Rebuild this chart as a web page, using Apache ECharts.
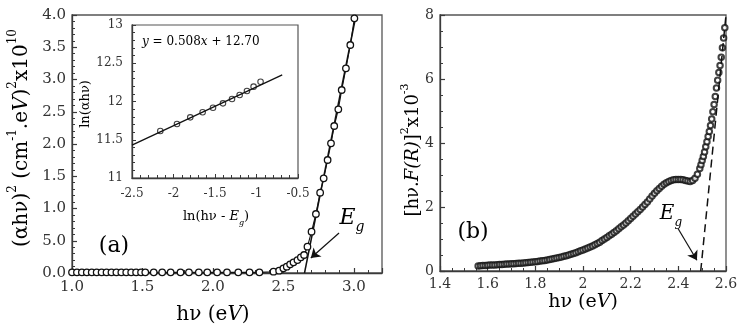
<!DOCTYPE html>
<html>
<head>
<meta charset="utf-8">
<script src="https://cdn.jsdelivr.net/npm/echarts@6/dist/echarts.min.js"></script>
<style>
  html, body { margin: 0; padding: 0; background: #fff; }
  #chart { width: 743px; height: 327px; }
</style>
</head>
<body>
<div id="chart"></div>
<script>
// (a) Tauc plot
const aX = [1.00, 1.035, 1.07, 1.105, 1.14, 1.175, 1.21, 1.245, 1.28, 1.315, 1.35, 1.385, 1.42, 1.455, 1.49,
  1.52, 1.58, 1.64, 1.70, 1.77, 1.83, 1.90, 1.96, 2.03, 2.10, 2.18, 2.26, 2.33, 2.43, 2.47, 2.50,
  2.524, 2.548, 2.572, 2.60, 2.624, 2.647, 2.671, 2.70, 2.731, 2.761, 2.786, 2.814, 2.838, 2.861,
  2.89, 2.914, 2.944, 2.975, 3.004];
const aY = [0.01, 0.01, 0.01, 0.01, 0.01, 0.01, 0.01, 0.01, 0.01, 0.01, 0.01, 0.01, 0.01, 0.01, 0.01,
  0.01, 0.01, 0.01, 0.01, 0.01, 0.01, 0.01, 0.01, 0.01, 0.01, 0.01, 0.01, 0.01, 0.02, 0.036, 0.072,
  0.098, 0.134, 0.165, 0.20, 0.243, 0.279, 0.408, 0.64, 0.915, 1.245, 1.468, 1.752, 2.01, 2.279,
  2.538, 2.837, 3.174, 3.535, 3.949];
// straight-line extrapolation to Eg
const aFitX = [2.65, 3.016];
const aFitY = [0, 4.0];
const aArrow = [[2.895, 0.62], [2.695, 0.233]];

// inset: ln(alpha h nu) vs ln(h nu - Eg)
const insetX = [-2.159, -1.958, -1.798, -1.649, -1.524, -1.404, -1.295, -1.203, -1.115, -1.035, -0.951];
const insetY = [11.614, 11.706, 11.793, 11.859, 11.919, 11.976, 12.033, 12.085, 12.137, 12.194, 12.259];
const insetFitX = [-2.5, -0.69];
const insetFitY = [11.43, 12.349];

// (b) Kubelka-Munk plot
const bX = [1.56, 1.57, 1.58, 1.59, 1.60, 1.61, 1.62, 1.63, 1.64, 1.65, 1.66, 1.67, 1.68, 1.69, 1.70,
  1.71, 1.72, 1.73, 1.74, 1.75, 1.76, 1.77, 1.78, 1.79, 1.80, 1.81, 1.82, 1.83, 1.84, 1.85,
  1.86, 1.87, 1.88, 1.89, 1.90, 1.91, 1.92, 1.93, 1.94, 1.95, 1.96, 1.97, 1.98, 1.99, 2.00,
  2.01, 2.02, 2.03, 2.04, 2.05, 2.06, 2.07, 2.08, 2.09, 2.10, 2.11, 2.12, 2.13, 2.14, 2.15,
  2.16, 2.17, 2.18, 2.19, 2.20, 2.21, 2.22, 2.23, 2.24, 2.25, 2.26, 2.27, 2.28, 2.29, 2.30,
  2.31, 2.32, 2.33, 2.34, 2.35, 2.36, 2.37, 2.38, 2.39, 2.40, 2.41, 2.42, 2.43, 2.44, 2.45,
  2.46, 2.47, 2.48, 2.49, 2.495, 2.50, 2.505, 2.51, 2.515, 2.52, 2.525, 2.53, 2.535, 2.54, 2.545,
  2.55, 2.555, 2.56, 2.565, 2.57, 2.575, 2.58, 2.585, 2.59, 2.595];
const bY = [0.16, 0.165, 0.17, 0.175, 0.18, 0.185, 0.19, 0.19, 0.195, 0.20, 0.205, 0.21, 0.215, 0.22, 0.225,
  0.23, 0.235, 0.24, 0.245, 0.25, 0.26, 0.265, 0.27, 0.28, 0.29, 0.30, 0.31, 0.32, 0.33, 0.345,
  0.36, 0.375, 0.39, 0.405, 0.42, 0.44, 0.46, 0.48, 0.50, 0.52, 0.545, 0.57, 0.60, 0.63, 0.66,
  0.69, 0.72, 0.75, 0.78, 0.82, 0.86, 0.90, 0.95, 1.00, 1.05, 1.10, 1.15, 1.20, 1.26, 1.32,
  1.38, 1.44, 1.50, 1.57, 1.64, 1.71, 1.78, 1.85, 1.92, 2.00, 2.08, 2.16, 2.25, 2.34, 2.43,
  2.51, 2.58, 2.65, 2.71, 2.76, 2.80, 2.83, 2.85, 2.86, 2.86, 2.86, 2.85, 2.83, 2.81, 2.80,
  2.83, 2.90, 3.02, 3.20, 3.32, 3.45, 3.58, 3.72, 3.88, 4.04, 4.20, 4.36, 4.55, 4.75, 4.98,
  5.20, 5.45, 5.72, 5.96, 6.20, 6.42, 6.68, 6.98, 7.28, 7.60];
const bFitX = [2.494, 2.60];
const bFitY = [0, 8];
const bArrow = [[2.398, 1.336], [2.478, 0.335]];

// y tick labels of (a) as printed (the 0.5 tick reads "5.0" in the figure)
const aYLabels = { '0': '0.0', '0.5': '5.0', '1': '1.0', '1.5': '1.5', '2': '2.0',
  '2.5': '2.5', '3': '3.0', '3.5': '3.5', '4': '4.0' };

const zip = (xs, ys) => xs.map((x, i) => [x, ys[i]]);

const FONT = 'DejaVu Serif';
const INK = '#111';
const AXIS = '#3a3a3a';

function axisBase(extra) {
  return Object.assign({
    type: 'value',
    axisLine: { show: true, onZero: false, lineStyle: { color: AXIS, width: 1.3 } },
    axisTick: { show: true, inside: true, length: 5, lineStyle: { color: AXIS, width: 1.2 } },
    minorTick: { show: true, splitNumber: 5, length: 3, lineStyle: { color: AXIS, width: 1 } },
    splitLine: { show: false },
    axisLabel: { color: '#333', fontFamily: FONT, fontSize: 15, margin: 6 },
  }, extra);
}

const sup = (size) => ({ fontFamily: FONT, fontSize: size, verticalAlign: 'top', lineHeight: size + 2, color: '#222' });
const sub = (size) => ({ fontFamily: FONT, fontSize: size, verticalAlign: 'bottom', lineHeight: size + 2, color: '#222', fontStyle: 'italic' });
const base = (size, italic) => ({ fontFamily: FONT, fontSize: size, lineHeight: size * 1.5, color: '#222', fontStyle: italic ? 'italic' : 'normal' });

function richText(x, y, text, size, rot, align) {
  return {
    type: 'text', x, y, rotation: rot || 0, silent: true,
    style: {
      text, align: align || 'center', verticalAlign: 'middle',
      rich: { n: base(size), i: base(size, true), p: sup(Math.round(size * 0.62)), s: sub(Math.round(size * 0.62)) },
    },
  };
}

function arrowLine(coords) {
  return {
    silent: true, symbol: ['none', 'arrow'], symbolSize: 9,
    label: { show: false },
    emphasis: { disabled: true },
    lineStyle: { color: INK, width: 1.2, type: 'solid' },
    data: [[{ coord: coords[0] }, { coord: coords[1] }]],
  };
}

const chart = echarts.init(document.getElementById('chart'), null, { renderer: 'canvas' });

chart.setOption({
  animation: false,
  backgroundColor: '#fff',
  grid: [
    { left: 72, top: 15, width: 310, height: 258, show: true, borderColor: '#555', borderWidth: 1.3 },
    { left: 132, top: 25, width: 166, height: 153, show: true, borderColor: '#555', borderWidth: 1.2, backgroundColor: '#fff' },
    { left: 440, top: 15, width: 286, height: 256, show: true, borderColor: '#555', borderWidth: 1.3 },
  ],
  xAxis: [
    axisBase({
      gridIndex: 0, min: 1.0, max: 3.2, interval: 0.5,
      axisLabel: {
        color: '#333', fontFamily: FONT, fontSize: 15, margin: 7,
        formatter: (v) => (Math.abs(v * 2 - Math.round(v * 2)) < 1e-6 ? v.toFixed(1) : ''),
      },
    }),
    axisBase({
      gridIndex: 1, min: -2.5, max: -0.5, interval: 0.5,
      axisLabel: { color: '#333', fontFamily: FONT, fontSize: 12, margin: 10 },
      axisTick: { show: true, inside: true, length: 4, lineStyle: { color: AXIS } },
    }),
    axisBase({
      gridIndex: 2, min: 1.4, max: 2.6, interval: 0.2,
      minorTick: { show: true, splitNumber: 4, length: 3, lineStyle: { color: AXIS } },
      axisLabel: { color: '#333', fontFamily: FONT, fontSize: 14, margin: 6 },
    }),
  ],
  yAxis: [
    axisBase({
      gridIndex: 0, min: 0, max: 4, interval: 0.5,
      axisLabel: {
        color: '#333', fontFamily: FONT, fontSize: 15, margin: 6,
        formatter: (v) => aYLabels[String(v)] || '',
      },
    }),
    axisBase({
      gridIndex: 1, min: 11, max: 13, interval: 0.5,
      axisLabel: { color: '#333', fontFamily: FONT, fontSize: 12, margin: 9 },
      axisTick: { show: true, inside: true, length: 4, lineStyle: { color: AXIS } },
    }),
    axisBase({
      gridIndex: 2, min: 0, max: 8, interval: 2,
      minorTick: { show: true, splitNumber: 4, length: 3, lineStyle: { color: AXIS } },
      axisLabel: { color: '#333', fontFamily: FONT, fontSize: 14, margin: 6 },
    }),
  ],
  series: [
    {
      type: 'line', xAxisIndex: 0, yAxisIndex: 0,
      data: zip(aFitX, aFitY), symbol: 'none',
      lineStyle: { color: INK, width: 1.5 },
      markLine: arrowLine(aArrow),
    },
    {
      type: 'line', xAxisIndex: 0, yAxisIndex: 0,
      data: zip(aX, aY), symbol: 'circle', symbolSize: 6.5,
      lineStyle: { color: INK, width: 1.1 },
      itemStyle: { color: '#fff', borderColor: INK, borderWidth: 1.3 },
    },
    {
      type: 'line', xAxisIndex: 1, yAxisIndex: 1,
      data: zip(insetFitX, insetFitY), symbol: 'none',
      lineStyle: { color: INK, width: 1.3 },
    },
    {
      type: 'scatter', xAxisIndex: 1, yAxisIndex: 1,
      data: zip(insetX, insetY), symbol: 'circle', symbolSize: 5.5,
      itemStyle: { color: '#fff', borderColor: INK, borderWidth: 1.1 },
    },
    {
      type: 'scatter', xAxisIndex: 2, yAxisIndex: 2,
      data: zip(bX, bY), symbol: 'circle', symbolSize: 5.5,
      itemStyle: { color: '#fff', borderColor: INK, borderWidth: 2 },
    },
    {
      type: 'line', xAxisIndex: 2, yAxisIndex: 2,
      data: zip(bFitX, bFitY), symbol: 'none',
      lineStyle: { color: INK, width: 1.5, type: [8, 5] },
      markLine: arrowLine(bArrow),
    },
  ],
  graphic: [
    richText(22, 138, '{n|(αhν)}{p|2}{n| (cm}{p|-1}{n|.e}{i|V}{n|)}{p|2}{n|x10}{p|10}', 20, Math.PI / 2),
    richText(213, 315, '{n|hν (e}{i|V}{n|)}', 20),
    richText(114, 246, '{n|(a)}', 22),
    richText(352, 218, '{i|E}{s|g}', 22),
    richText(86, 104, '{n|ln(αhν)}', 13, Math.PI / 2),
    richText(216, 217, '{n|ln(hν - }{i|E}{s|g}{n|)}', 13),
    richText(142, 42, '{i|y}{n| = 0.508}{i|x}{n| + 12.70}', 12, 0, 'left'),
    richText(413, 150, '{n|[hν.}{i|F(R)}{n|]}{p|2}{n|x10}{p|-3}', 18, Math.PI / 2),
    richText(583, 302, '{n|hν (e}{i|V}{n|)}', 19),
    richText(473, 232, '{n|(b)}', 22),
    richText(671, 214, '{i|E}{s|g}', 20),
  ],
});
</script>
</body>
</html>
